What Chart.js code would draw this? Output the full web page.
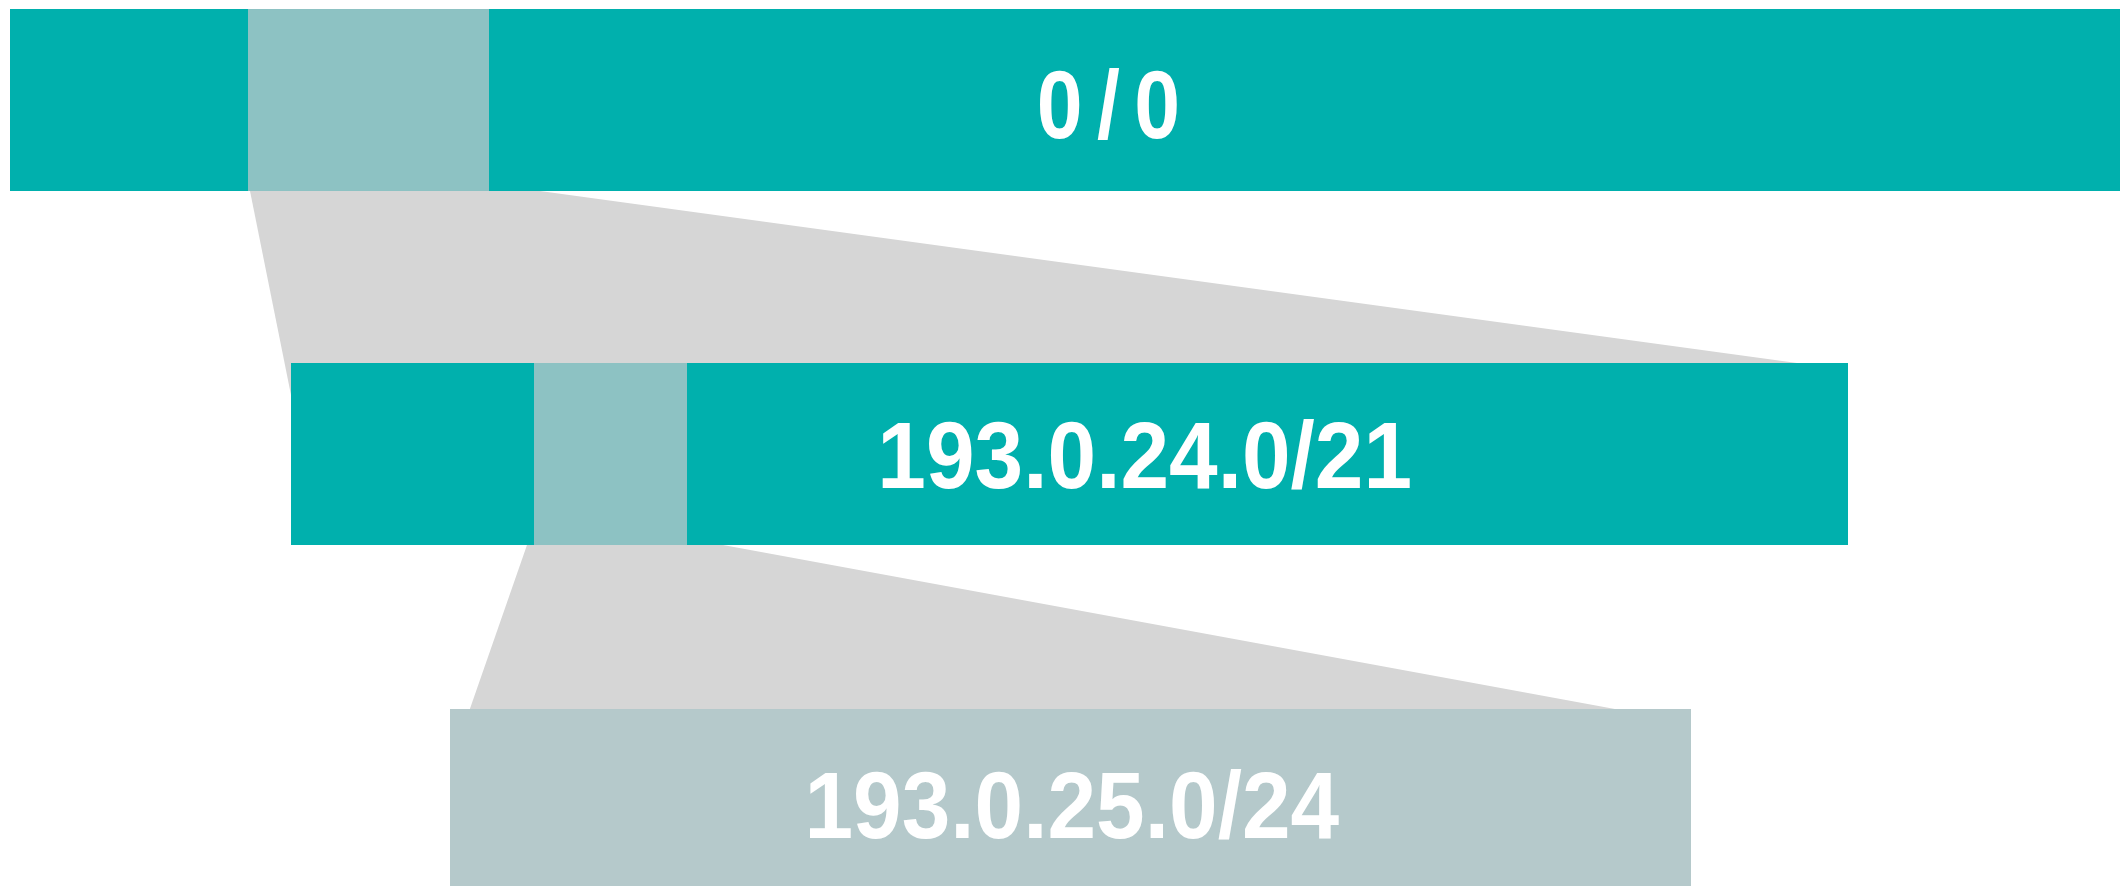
<!DOCTYPE html>
<html>
<head>
<meta charset="utf-8">
<style>
  html, body { margin: 0; padding: 0; background: #fff; }
  #chart { display: block; }
</style>
<script src="https://cdn.jsdelivr.net/npm/chart.js@4.4.1/dist/chart.umd.min.js"></script>
</head>
<body>
<canvas id="chart" width="2120" height="886"></canvas>
<script>
// one row per prefix level
const prefixes = ['0/0', '193.0.24.0/21', '193.0.25.0/24'];
// row extents along x
const rowStart = [10, 291, 450];
const rowEnd = [2180, 1848, 1691];
// row extents along y (0 at the top)
const rowTop = [9, 363, 709];
const rowBottom = [191, 545, 895];
// part of a row that is zoomed into on the next row
const zoomStart = [248, 534];
const zoomEnd = [489, 687];
// gray funnels between rows: top left, top right, bottom right, bottom left
const funnelX = [[250, 540, 1848, 291], [527, 723, 1691, 450]];
const funnelY = [[191, 191, 370, 395], [545, 545, 723, 766]];
// label anchors (ink center x, baseline y)
const labelX = [1108, 1146, 1074];
const labelBase = [138, 488, 838];

const teal = '#00B0AD';
const rowColors = [teal, teal, '#B5C9CB'];
const bigFont = '700 97px "Liberation Sans"';
const ipFont = '700 94px "Liberation Sans"';

function box(x0, x1, y0, y1) {
    return [{x: x0, y: y0}, {x: x1, y: y0}, {x: x1, y: y1}, {x: x0, y: y1}, {x: x0, y: y0}];
}

function shape(points, color, order) {
    return {
        data: points,
        backgroundColor: color,
        borderColor: 'transparent',
        borderWidth: 0,
        fill: 'shape',
        pointRadius: 0,
        tension: 0,
        order: order
    };
}

const datasets = [];
funnelX.forEach((xs, i) => {
    const pts = xs.map((x, j) => ({x: x, y: funnelY[i][j]}));
    pts.push(pts[0]);
    datasets.push(shape(pts, '#D6D6D6', 3));
});
prefixes.forEach((p, i) => {
    datasets.push(shape(box(rowStart[i], rowEnd[i], rowTop[i], rowBottom[i]), rowColors[i], 2));
});
zoomStart.forEach((s, i) => {
    datasets.push(shape(box(s, zoomEnd[i], rowTop[i], rowBottom[i]), '#8DC2C3', 1));
});

const labelPlugin = {
    id: 'prefixLabels',
    afterDatasetsDraw(chart) {
        const ctx = chart.ctx;
        const x = chart.scales.x;
        const y = chart.scales.y;
        prefixes.forEach((text, i) => {
            ctx.save();
            ctx.fillStyle = '#fff';
            ctx.textAlign = 'left';
            ctx.textBaseline = 'alphabetic';
            ctx.font = i === 0 ? bigFont : ipFont;
            // the top label is narrower and loosely spaced
            const squeeze = i === 0 ? 0.85 : 0.93;
            if (i === 0) ctx.letterSpacing = '17px';
            const m = ctx.measureText(text);
            const mid = (m.actualBoundingBoxRight - m.actualBoundingBoxLeft) / 2;
            ctx.translate(x.getPixelForValue(labelX[i]) - mid * squeeze, y.getPixelForValue(labelBase[i]));
            ctx.scale(squeeze, 1);
            ctx.fillText(text, 0, 0);
            ctx.restore();
        });
    }
};

function draw() {
    new Chart(document.getElementById('chart'), {
        type: 'line',
        data: { datasets: datasets },
        options: {
            responsive: false,
            animation: false,
            devicePixelRatio: 1,
            events: [],
            layout: { padding: 0 },
            plugins: {
                legend: { display: false },
                tooltip: { enabled: false }
            },
            scales: {
                x: { type: 'linear', display: false, min: 0, max: 2120 },
                y: { type: 'linear', display: false, min: 0, max: 886, reverse: true }
            }
        },
        plugins: [labelPlugin]
    });
}

Promise.all([document.fonts.load(bigFont, '0/0'), document.fonts.load(ipFont, '193.0.24.0/21')])
    .then(draw, draw);
</script>
</body>
</html>
